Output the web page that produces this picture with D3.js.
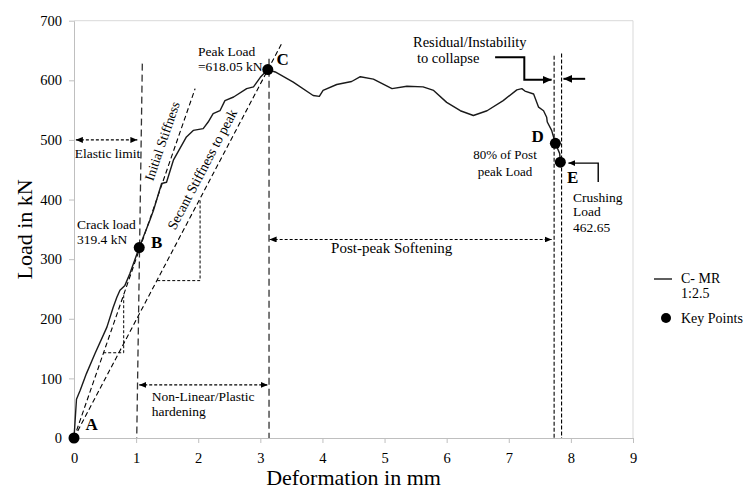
<!DOCTYPE html>
<html><head><meta charset="utf-8">
<script src="https://cdn.jsdelivr.net/npm/d3@7"></script>
<style>
body{margin:0;background:#fff}
text{font-family:"Liberation Serif","Times New Roman",serif;fill:#000}
</style>
</head><body>
<svg id="chart" width="748" height="490"></svg>
<script>
// ---------- data ----------
const deformation = [0,0.04,0.1,0.2,0.34,0.53,0.63,0.69,0.74,0.82,0.90,1.05,1.22,1.28,1.41,1.49,1.60,1.81,1.92,2.08,2.16,2.24,2.35,2.43,2.57,2.78,2.89,3.00,3.12,3.24,3.53,3.85,3.95,4.01,4.23,4.47,4.61,4.82,5.12,5.36,5.62,5.79,6.00,6.22,6.43,6.65,6.91,7.13,7.21,7.26,7.40,7.48,7.56,7.61,7.62,7.69,7.75,7.82,7.83];
const loadKN      = [0,65,80,108,142,186,219,236,248,256,276,319.4,365,382,427,429,466,505,516,519,530,544,549,566,572,586,589,605,618.05,614,597,574.5,573,583,593,598,606,602,586,590,589,583,563,549,541,549,566,584,586,582,577,555,549,538,530,516,494.4,477,462.65];
const keyLabels = ["A","B","C","D","E"];
const keyX      = [0,1.05,3.12,7.75,7.83];
const keyY      = [0,319.4,618.05,494.4,462.65];
const xTicks = [0,1,2,3,4,5,6,7,8,9];
const yTicks = [0,100,200,300,400,500,600,700];
const seriesName = ["C- MR","1:2.5"];
const markerName = "Key Points";
const xTitle = "Deformation in mm";
const yTitle = "Load in kN";

// ---------- layout ----------
const svg = d3.select("#chart");
const L = 74, R = 633, T = 20.7, B = 438;
const x = d3.scaleLinear().domain([0,9]).range([L,R]);
const y = d3.scaleLinear().domain([0,700]).range([B,T]);

// defs: arrowheads
const defs = svg.append("defs");
function mk(id, w, h){
  defs.append("marker").attr("id",id).attr("markerUnits","userSpaceOnUse")
    .attr("markerWidth",w).attr("markerHeight",h).attr("refX",w).attr("refY",h/2)
    .attr("orient","auto-start-reverse")
    .append("path").attr("d",`M0,0L${w},${h/2}L0,${h}Z`).attr("fill","#000");
}
mk("ah",7,6);
mk("ahb",9,8);

// plot border (top/right)
svg.append("path").attr("d",`M${L},${T}H${R}V${B}`).attr("fill","none").attr("stroke","#d9d9d9").attr("stroke-width",1);

// axes
const gy = svg.append("g").attr("transform",`translate(${L},0)`)
  .call(d3.axisLeft(y).tickValues(yTicks).tickSize(5).tickSizeOuter(0).tickPadding(7));
const gx = svg.append("g").attr("transform",`translate(0,${B})`)
  .call(d3.axisBottom(x).tickValues(xTicks).tickSize(5).tickSizeOuter(0).tickPadding(10));
[gx,gy].forEach(g=>{
  g.select(".domain").attr("stroke","#bfbfbf");
  g.selectAll(".tick line").attr("stroke","#bfbfbf");
  g.selectAll(".tick text").attr("font-size","14.5px").attr("fill","#222")
   .style("font-family","'Liberation Serif',serif");
});

// axis titles
svg.append("text").attr("x",(L+R)/2).attr("y",485).attr("text-anchor","middle")
  .attr("font-size","22px").text(xTitle);
svg.append("text").attr("transform",`translate(32,${(T+B)/2}) rotate(-90)`)
  .attr("text-anchor","middle").attr("font-size","22px").text(yTitle);

// helpers
const ann = svg.append("g");
function seg(pts, dash, w, opts={}){
  const p = ann.append("path")
    .attr("d", d3.line()(pts.map(d=>[x(d[0]),y(d[1])])))
    .attr("fill","none").attr("stroke",opts.color||"#000").attr("stroke-width",w);
  if(dash) p.attr("stroke-dasharray",dash);
  if(opts.end) p.attr("marker-end",`url(#${opts.end})`);
  if(opts.start) p.attr("marker-start",`url(#${opts.start})`);
  return p;
}
function txt(s, xd, yd, size, opts={}){
  return ann.append("text").attr("x",x(xd)).attr("y",y(yd))
    .attr("font-size",size+"px").attr("text-anchor",opts.anchor||"start")
    .attr("font-weight",opts.bold?"bold":"normal").text(s);
}

// reference dashed lines
seg([[1.1,628],[1.01,0]],"7,4",1.3,{color:"#333"});
seg([[3.14,636],[3.14,0]],"7,4",1.3,{color:"#333"});
seg([[0,0],[1.95,586]],"5,3",1.1);
seg([[0,0],[3.34,661]],"5,3",1.1);
seg([[0.47,143],[0.80,143],[0.80,243]],"3,2",1);
seg([[1.34,264],[2.03,264],[2.03,400]],"3,2",1);
seg([[7.73,641],[7.73,0]],"4,2",1.1);
seg([[7.85,645],[7.85,0]],"4,2",1.1);

// double arrows
seg([[0.03,500],[1.02,500]],"3,2",1.2,{start:"ah",end:"ah"});
seg([[1.05,89],[3.12,89]],"3,2",1.2,{start:"ah",end:"ah"});
seg([[3.15,333],[7.69,333]],"3,2",1.2,{start:"ah",end:"ah"});

// bold arrows
seg([[6.78,638.7],[7.25,638.7],[7.25,600.8],[7.69,600.8]],null,2,{end:"ahb"});
seg([[8.23,602.5],[7.88,602.5]],null,2,{end:"ahb"});
seg([[8.44,429.3],[8.44,461.1],[7.96,461.1]],null,1.4,{end:"ah"});

// curve
const data = deformation.map((d,i)=>[d,loadKN[i]]);
svg.append("path").datum(data)
  .attr("d", d3.line().x(d=>x(d[0])).y(d=>y(d[1])))
  .attr("fill","none").attr("stroke","#1a1a1a").attr("stroke-width",1.4)
  .attr("stroke-linejoin","round");

// key points
svg.append("g").selectAll("circle").data(keyX).join("circle")
  .attr("cx",(d)=>x(d)).attr("cy",(d,i)=>y(keyY[i])).attr("r",5.5).attr("fill","#000");

// labels for key points
txt(keyLabels[0],0.285,14,17,{anchor:"middle",bold:true});
txt(keyLabels[1],1.331,318,17,{anchor:"middle",bold:true});
txt(keyLabels[2],3.36,625,17,{anchor:"middle",bold:true});
txt(keyLabels[3],7.466,496.5,17,{anchor:"middle",bold:true});
txt(keyLabels[4],8.029,427,17,{anchor:"middle",bold:true});

// annotation texts
txt("Elastic limit",0.54,469,13.5,{anchor:"middle"});
txt("Crack load",0.048,351.4,13.5);
txt("319.4 kN",0.048,324.6,13.5);
txt("Peak Load",1.996,640.8,13.5);
txt("=618.05 kN",1.996,614.8,13.5);
txt("80% of Post",6.939,467.2,13,{anchor:"middle"});
txt("peak Load",6.939,440.3,13,{anchor:"middle"});
txt("Crushing",8.034,396.7,13.5);
txt("Load",8.034,372.4,13.5);
txt("462.65",8.034,345.6,13.5);
txt("Residual/Instability",5.458,656.7,14.5);
txt("to collapse",5.522,629,14.5);
txt("Post-peak Softening",5.115,310.3,15,{anchor:"middle"});
txt("Non-Linear/Plastic",1.251,62.9,13.5);
txt("hardening",1.251,36.1,13.5);

// rotated labels along stiffness lines
function rotLabel(s, xd, yd, slope, size){
  const ang = Math.atan2(y(0)-y(slope), x(1)-x(0))*180/Math.PI;
  ann.append("text").attr("transform",`translate(${x(xd)},${y(yd)}) rotate(${-ang})`)
    .attr("text-anchor","middle").attr("dy","0.35em").attr("font-size",size+"px").text(s);
}
rotLabel("Initial Stiffness",1.417,498,586/1.95,13.5);
rotLabel("Secant Stiffness to peak",2.061,451,661/3.34,14);

// legend
const lg = svg.append("g");
lg.append("line").attr("x1",654).attr("x2",672).attr("y1",279).attr("y2",279).attr("stroke","#1a1a1a").attr("stroke-width",1.4);
lg.append("text").attr("x",681).attr("y",283).attr("font-size","14px").text(seriesName[0]);
lg.append("text").attr("x",681).attr("y",298).attr("font-size","14px").text(seriesName[1]);
lg.append("circle").attr("cx",666).attr("cy",318).attr("r",5).attr("fill","#000");
lg.append("text").attr("x",681).attr("y",323).attr("font-size","14px").text(markerName);
</script>
</body></html>
